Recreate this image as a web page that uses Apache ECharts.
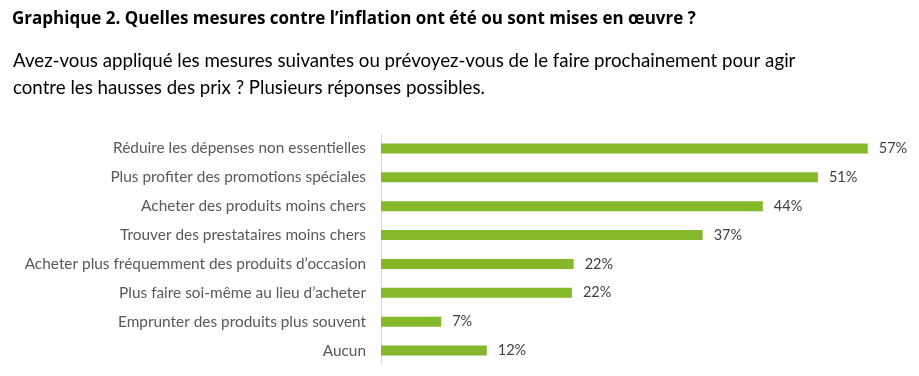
<!DOCTYPE html>
<html>
<head>
<meta charset="utf-8">
<script src="https://cdn.jsdelivr.net/npm/echarts@6/dist/echarts.min.js"></script>
<style>
  html, body { margin: 0; padding: 0; background: #fff; }
  #chart { width: 919px; height: 376px; }
</style>
</head>
<body>
<div id="chart"></div>
<script>
var titre = 'Graphique 2. Quelles mesures contre l\u2019inflation ont été ou sont mises en œuvre ?';
var question = 'Avez-vous appliqué les mesures suivantes ou prévoyez-vous de le faire prochainement pour agir\ncontre les hausses des prix ? Plusieurs réponses possibles.';

var mesures = [
  'Réduire les dépenses non essentielles',
  'Plus profiter des promotions spéciales',
  'Acheter des produits moins chers',
  'Trouver des prestataires moins chers',
  'Acheter plus fréquemment des produits d\u2019occasion',
  'Plus faire soi-même au lieu d\u2019acheter',
  'Emprunter des produits plus souvent',
  'Aucun'
];
var parts = [56.6, 50.8, 44.4, 37.4, 22.4, 22.2, 7.0, 12.3];

var myChart = echarts.init(document.getElementById('chart'));
var option = {
  backgroundColor: '#ffffff',
  title: [
    {
      text: titre,
      left: 7,
      top: 6,
      textStyle: { fontFamily: 'Open Sans', fontWeight: 'bold', fontSize: 17, color: '#000000' }
    },
    {
      text: question,
      left: 8,
      top: 42,
      textStyle: { fontFamily: 'Lato', fontWeight: 'normal', fontSize: 18.7, lineHeight: 27, color: '#000000' }
    }
  ],
  grid: { left: 381, top: 134, height: 231, width: 516 },
  xAxis: {
    type: 'value',
    min: 0,
    max: 60,
    show: false
  },
  yAxis: {
    type: 'category',
    inverse: true,
    data: mesures,
    axisLine: { lineStyle: { color: '#d9d9d9' } },
    axisTick: { show: false },
    axisLabel: { margin: 15, fontFamily: 'Lato', fontSize: 15.4, color: '#595959' }
  },
  series: [
    {
      type: 'bar',
      data: parts,
      barWidth: 10,
      itemStyle: { color: '#85b82b' },
      label: {
        show: true,
        position: 'right',
        distance: 11,
        fontFamily: 'Lato',
        fontSize: 14.5,
        color: '#404040',
        formatter: function (p) { return Math.round(p.value) + '%'; }
      }
    }
  ]
};
myChart.setOption(option);
</script>
</body>
</html>
